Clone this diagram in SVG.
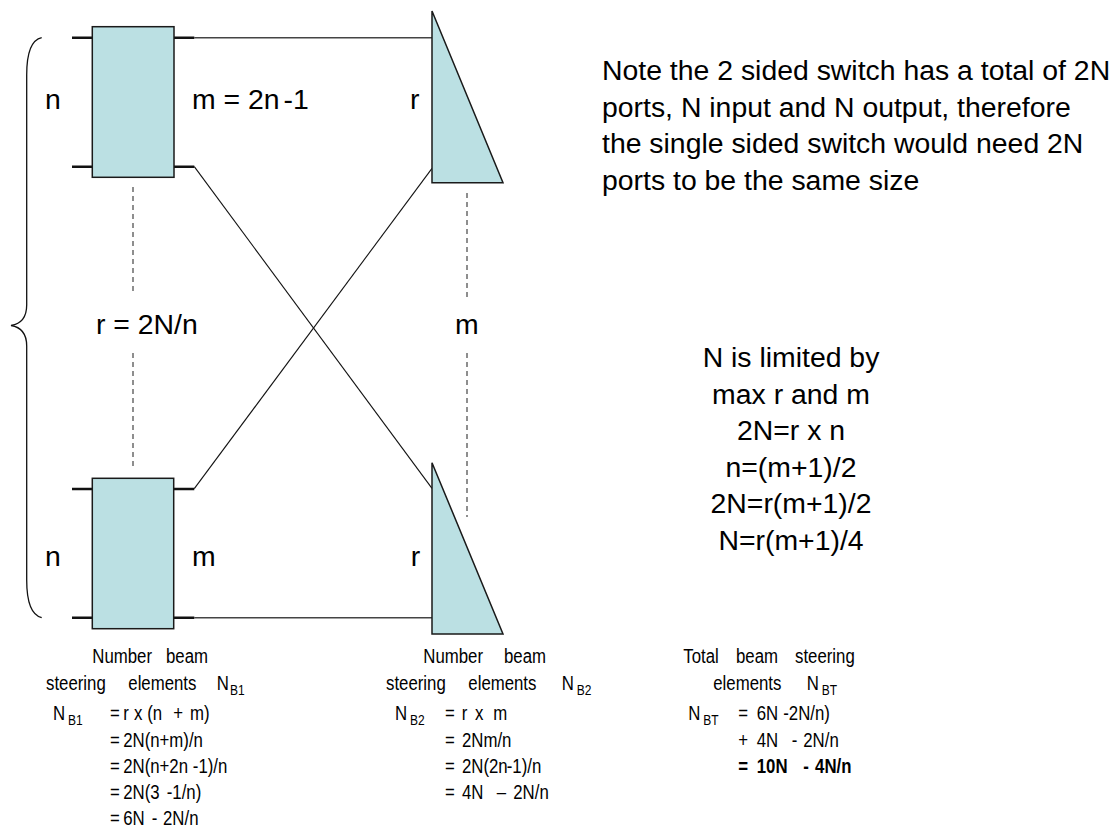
<svg xmlns="http://www.w3.org/2000/svg" width="1120" height="833" viewBox="0 0 1120 833">
<style>
.box{fill:#BBE0E3;stroke:#1a1a1a;stroke-width:1.5}
.port{stroke:#111;stroke-width:2.5;fill:none}
.wire{stroke:#444;stroke-width:1.5;fill:none}
.diag{stroke:#111;stroke-width:1.1;fill:none}
.dash{stroke:#444;stroke-width:1.2;stroke-dasharray:5,4;fill:none}
.big{font-family:"Liberation Sans",Arial,sans-serif;font-size:28.4px;fill:#000}
.sm{font-family:"Liberation Sans",Arial,sans-serif;font-size:21px;fill:#000}
.sub{font-size:15px}
</style>
<rect width="1120" height="833" fill="#fff"/>

<g id="connectors">
  <path class="wire" d="M194.3,37.7 H432"/>
  <path class="wire" d="M194.3,617.7 H432"/>
  <path class="diag" d="M194.3,166.7 L432,488.3"/>
  <path class="diag" d="M194.3,488.7 L432,168.3"/>
  <path class="dash" d="M133,187 V293 M133,353 V468"/>
  <path class="dash" d="M467,193 V298 M467,353 V517"/>
  <path d="M41.7,37.7 C31,40 26.7,55 26.7,75 L26.7,305 C26.7,318 20,324 11,325.5 C20,327 26.7,333 26.7,346 L26.7,580 C26.7,600 31,615 41.7,617.7" fill="none" stroke="#111" stroke-width="1.3"/>
</g>

<g id="box-top">
  <path class="port" d="M72,37.7 H92.3 M72,166.7 H92.3 M174,37.7 H194.3 M174,166.7 H194.3"/>
  <rect class="box" x="92.3" y="26.7" width="81.7" height="150.6"/>
</g>
<g id="box-bottom">
  <path class="port" d="M72,489 H92.3 M72,617.7 H92.3 M173.7,489 H194.3 M173.7,617.7 H194.3"/>
  <rect class="box" x="92.3" y="478.3" width="81.4" height="150.4"/>
</g>
<g id="tri-top">
  <polygon class="box" points="432,11 432,182.7 503,182.7"/>
</g>
<g id="tri-bottom">
  <polygon class="box" points="432,462.7 432,634 503,634"/>
</g>

<g id="labels">
  <text class="big" x="45" y="109">n</text>
  <text class="big" x="192" y="109">m = 2n<tspan dx="4">-1</tspan></text>
  <text class="big" x="410" y="109">r</text>
  <text class="big" x="96" y="334">r = 2N/n</text>
  <text class="big" x="455" y="334">m</text>
  <text class="big" x="45" y="566">n</text>
  <text class="big" x="192" y="566">m</text>
  <text class="big" x="410.7" y="566">r</text>
</g>

<g id="note">
  <text class="big" x="602" y="80">Note the 2 sided switch has a total of 2N</text>
  <text class="big" x="602" y="116.5">ports, N input and N output, therefore</text>
  <text class="big" x="602" y="153">the single sided switch would need 2N</text>
  <text class="big" x="602" y="189.5">ports to be the same size</text>
</g>

<g id="limits" text-anchor="middle">
  <text class="big" x="791" y="367">N is limited by</text>
  <text class="big" x="791" y="403.6">max r and m</text>
  <text class="big" x="791" y="440.2">2N=r x n</text>
  <text class="big" x="791" y="476.8">n=(m+1)/2</text>
  <text class="big" x="791" y="513.4">2N=r(m+1)/2</text>
  <text class="big" x="791" y="550">N=r(m+1)/4</text>
</g>

<g id="nb1" transform="scale(0.8 1)" class="sm">
  <text y="663"><tspan x="115.4">Number</tspan><tspan x="207.5">beam</tspan></text>
  <text y="690"><tspan x="57.5">steering</tspan><tspan x="160.4">elements</tspan><tspan x="270.9">N</tspan><tspan x="287.5" dy="5" class="sub">B1</tspan></text>
  <text y="720"><tspan x="66.3">N</tspan><tspan x="85" dy="5" class="sub">B1</tspan><tspan x="137.5" dy="-5">=</tspan><tspan x="154">r</tspan><tspan x="167.5">x</tspan><tspan x="184">(n</tspan><tspan x="216.6">+</tspan><tspan x="237.5">m)</tspan></text>
  <text y="747"><tspan x="137.5">=</tspan><tspan x="154">2N(n+m)/n</tspan></text>
  <text y="773"><tspan x="137.5">=</tspan><tspan x="154">2N(n+2n</tspan><tspan x="241">-1)/n</tspan></text>
  <text y="799"><tspan x="137.5">=</tspan><tspan x="154">2N(3</tspan><tspan x="208.4">-1/n)</tspan></text>
  <text y="825"><tspan x="137.5">=</tspan><tspan x="154">6N</tspan><tspan x="189.6">-</tspan><tspan x="203.8">2N/n</tspan></text>
</g>

<g id="nb2" transform="scale(0.8 1)" class="sm">
  <text y="663"><tspan x="529.1">Number</tspan><tspan x="630">beam</tspan></text>
  <text y="690"><tspan x="482.5">steering</tspan><tspan x="585.4">elements</tspan><tspan x="702.1">N</tspan><tspan x="720.9" dy="5" class="sub">B2</tspan></text>
  <text y="720"><tspan x="493.8">N</tspan><tspan x="512.5" dy="5" class="sub">B2</tspan><tspan x="556.3" dy="-5">=</tspan><tspan x="577.1">r</tspan><tspan x="593.8">x</tspan><tspan x="616.6">m</tspan></text>
  <text y="747"><tspan x="556.3">=</tspan><tspan x="577.5">2Nm/n</tspan></text>
  <text y="773"><tspan x="556.3">=</tspan><tspan x="577.5">2N(2n</tspan><tspan x="633.4">-1)/n</tspan></text>
  <text y="799"><tspan x="556.3">=</tspan><tspan x="577.5">4N</tspan><tspan x="620.9">–</tspan><tspan x="641.6">2N/n</tspan></text>
</g>

<g id="nbt" transform="scale(0.8 1)" class="sm">
  <text y="663"><tspan x="854.1">Total</tspan><tspan x="920">beam</tspan><tspan x="993.8">steering</tspan></text>
  <text y="690"><tspan x="891.6">elements</tspan><tspan x="1008.4">N</tspan><tspan x="1027.1" dy="5" class="sub">BT</tspan></text>
  <text y="720"><tspan x="860.4">N</tspan><tspan x="879.1" dy="5" class="sub">BT</tspan><tspan x="922.9" dy="-5">=</tspan><tspan x="945.9">6N</tspan><tspan x="979.1">-2N/n)</tspan></text>
  <text y="747"><tspan x="922.9">+</tspan><tspan x="945.9">4N</tspan><tspan x="989.6">-</tspan><tspan x="1004.1">2N/n</tspan></text>
  <text y="773" font-weight="bold"><tspan x="922.9">=</tspan><tspan x="945.9">10N</tspan><tspan x="1004.1">-</tspan><tspan x="1018.8">4N/n</tspan></text>
</g>
</svg>
